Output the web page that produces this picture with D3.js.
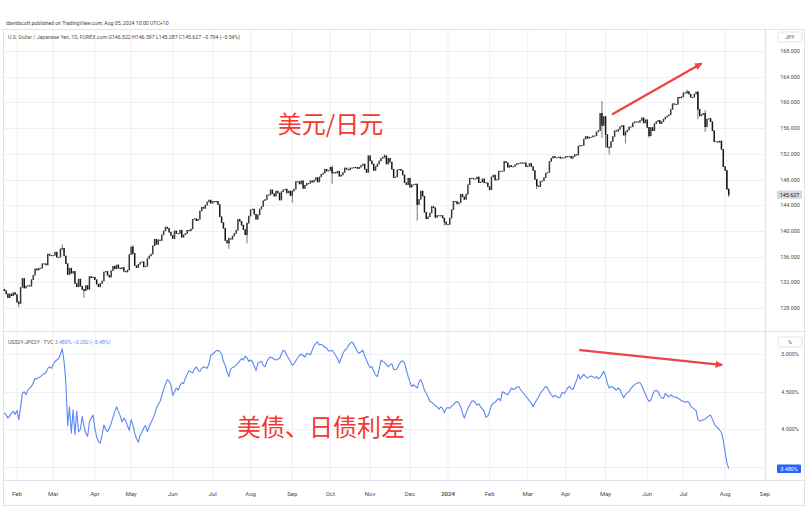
<!DOCTYPE html>
<html><head><meta charset="utf-8">
<script src="https://cdn.jsdelivr.net/npm/d3@7"></script>
<style>html,body{margin:0;padding:0;background:#fff;}svg{display:block;font-family:Roboto,"Noto Sans",sans-serif;}</style>
</head><body><svg id="c" width="808" height="507"></svg>
<script>
// ---------------- DATA ----------------
const startDate = "2023-01-23";   // first daily bar
const axisEndDate = "2024-09-06"; // time axis extends past last bar
const firstOpen = 130.9;
// USD/JPY daily closes (one per weekday)
const usdjpyClose = [
  130.7,130.2,129.6,130.2,129.9,130.4,130.1, // Jan 2023
  128.9,128.7,131.2,132.6,131.1,131.4,131.5,131.4,132.4,133.1,134.1,133.9,134.2,134.2,134.9,134.9,134.7,136.4,136.2,136.2, // Feb
  136.2,136.7,135.9,135.9,137.2,137.3,136.1,134.9,133.2,134.2,133.4,133.7,131.8,131.3,132.5,131.4,130.9,130.7,131.5,130.9,132.9,132.7,132.8, // Mar
  132.4,131.7,131.3,131.8,132.2,133.6,133.7,133.1,132.8,133.8,134.5,134.1,134.7,134.2,134.1,134.3,133.7,133.6,133.9,136.3, // Apr
  137.5,136.5,134.6,134.3,134.8,135.1,135.2,134.4,134.5,135.7,136.1,136.4,137.7,138.7,137.9,138.6,138.5,139.4,140.0,140.6,140.4,139.8,139.3, // May
  138.8,140.0,139.6,139.6,140.1,139.0,139.4,139.6,140.1,140.0,140.3,141.8,141.9,141.6,141.8,143.1,143.7,143.5,144.0,144.5,144.8,144.3, // Jun
  144.6,144.5,144.6,144.1,142.2,141.3,140.4,138.5,138.1,138.8,138.7,139.2,139.6,140.1,141.8,141.5,140.9,140.2,139.4,141.2,142.3, // Jul
  143.3,143.4,142.6,141.8,142.5,143.4,143.8,144.7,144.9,145.6,145.6,146.4,145.8,145.4,146.2,145.9,144.8,146.1,146.4,146.5,145.9,146.2,145.5, // Aug
  146.2,146.5,147.7,147.7,147.3,147.8,146.6,147.1,147.4,147.4,147.8,147.6,147.9,148.3,147.6,148.4,148.8,149.0,149.6,149.3,149.4, // Sep
  149.9,149.0,149.1,149.0,149.3,148.5,148.7,149.1,149.8,149.6,149.5,149.8,149.8,149.9,149.9,149.7,149.9,150.2,150.4,149.6,149.1,151.7, // Oct
  150.9,150.4,149.4,150.0,150.4,150.9,151.3,151.5,151.7,150.4,151.3,150.7,149.6,148.3,148.4,149.5,149.6,149.4,148.7,147.5,147.2,148.2, // Nov
  146.8,147.2,147.2,147.3,144.1,144.9,146.2,145.4,142.9,141.9,142.2,142.8,143.8,143.6,142.1,142.4,142.4,142.4,142.0,141.4,141.0, // Dec
  141.0,142.0,143.3,144.6,144.6,144.2,144.4,145.7,145.3,144.9,145.7,147.2,148.2,148.2,148.1,148.1,148.4,147.5,147.6,148.1,147.5,147.5,146.9, // Jan 2024
  146.4,148.4,148.7,147.9,148.0,149.3,149.3,149.3,150.8,150.6,149.9,150.2,150.0,150.0,150.3,150.5,150.5,150.6,150.5,150.6,150.0, // Feb
  150.1,150.5,150.0,149.4,148.0,147.0,146.9,147.7,147.8,148.3,149.0,149.1,150.8,151.3,151.6,151.4,151.4,151.5,151.3,151.4,151.4, // Mar
  151.6,151.6,151.6,151.3,151.6,151.9,151.8,153.2,153.3,153.3,154.3,154.7,154.4,154.6,154.6,154.8,154.8,155.4,155.6,158.3,156.4,157.8, // Apr
  155.0,153.0,153.0,153.9,154.7,155.6,155.5,155.8,156.2,156.4,154.9,155.4,155.7,156.2,156.2,156.8,157.0,157.0,156.9,157.2,157.6,156.8,157.3, // May
  156.1,154.8,156.1,155.6,156.7,157.0,157.2,156.7,157.0,157.4,157.7,157.9,158.1,158.9,159.8,159.7,159.7,160.8,160.7,160.9, // Jun
  161.5,161.5,161.7,161.3,160.8,160.8,161.3,161.6,158.9,157.9,158.1,158.3,156.2,157.4,157.5,157.0,155.6,153.9,153.9,153.8,154.0,152.7,150.0, // Jul
  149.4,146.5,145.627 // Aug
];
// notable intraday extremes: [date, high, low]
const wicks = [
  ["2023-02-02",129.1,128.1],["2023-03-08",137.9,137.0],["2023-03-24",131.0,129.6],["2023-05-02",137.8,136.3],
  ["2023-07-14",139.0,137.2],["2023-07-28",141.3,138.05],["2023-09-01",146.3,144.4],["2023-10-03",150.2,147.3],
  ["2023-11-13",151.9,151.3],["2023-12-07",147.3,141.6],["2023-12-28",141.9,140.8],["2024-03-08",148.0,146.5],
  ["2024-04-29",160.2,154.5],["2024-05-01",157.9,153.0],["2024-05-03",153.2,151.9],["2024-05-16",155.5,153.6],
  ["2024-06-04",156.2,154.5],["2024-07-03",161.95,161.3],["2024-07-11",161.8,157.4],["2024-07-17",158.8,155.4],
  ["2024-08-02",149.5,146.4],["2024-08-05",146.597,145.287]
];
// US02Y - JP02Y spread (%), one per weekday
const spread = [
  4.22,4.19,4.15,4.18,4.22,4.24,4.20, // Jan 2023
  4.25,4.13,4.30,4.48,4.50,4.46,4.52,4.55,4.57,4.62,4.68,4.67,4.69,4.70,4.72,4.74,4.75,4.81,4.83,4.81,
  4.86,4.90,4.92,4.94,5.00,5.07,4.90,4.62,4.05,4.30,3.95,4.26,3.93,4.24,3.97,4.00,4.17,4.04,3.95,3.91,4.10,4.15,4.19,
  4.02,3.90,3.84,3.82,3.93,4.06,4.00,3.97,4.02,4.08,4.16,4.24,4.30,4.24,4.18,4.10,4.15,4.12,4.05,3.99,
  4.13,4.06,3.95,3.88,3.83,3.93,3.96,4.02,4.05,3.97,4.04,4.09,4.14,4.20,4.28,4.33,4.37,4.45,4.53,4.60,4.66,4.64,4.59,
  4.45,4.50,4.55,4.52,4.58,4.62,4.61,4.68,4.73,4.78,4.76,4.75,4.80,4.83,4.79,4.77,4.81,4.83,4.82,4.81,4.87,4.98,
  5.00,5.02,5.04,5.05,5.03,5.00,4.90,4.85,4.76,4.70,4.80,4.82,4.83,4.85,4.88,4.91,4.94,4.92,4.97,4.95,4.90,
  4.92,4.90,4.84,4.78,4.88,4.89,4.90,4.85,4.83,4.90,4.94,4.96,4.95,4.93,4.92,4.93,4.94,5.00,5.05,5.04,4.98,4.94,4.90,
  4.85,4.87,4.91,4.95,4.98,5.00,4.98,4.96,5.01,5.00,4.99,5.05,5.11,5.14,5.16,5.12,5.13,5.11,5.09,5.08,5.04,
  5.04,5.05,5.02,4.98,4.94,4.88,4.94,5.01,5.05,5.07,5.11,5.14,5.16,5.13,5.08,5.03,5.01,5.03,5.05,4.97,4.92,4.86,
  4.82,4.83,4.77,4.72,4.70,4.80,4.92,4.90,4.89,4.86,4.83,4.86,4.87,4.80,4.79,4.81,4.86,4.90,4.91,4.88,4.79,4.70,
  4.63,4.57,4.59,4.57,4.55,4.63,4.66,4.60,4.52,4.48,4.43,4.37,4.36,4.34,4.31,4.30,4.27,4.30,4.28,4.22,4.28,
  4.29,4.28,4.31,4.33,4.36,4.37,4.35,4.30,4.22,4.15,4.22,4.28,4.32,4.37,4.38,4.36,4.32,4.34,4.30,4.27,4.24,4.16,4.18, // Jan 2024
  4.24,4.32,4.35,4.36,4.39,4.41,4.38,4.50,4.49,4.47,4.46,4.50,4.55,4.53,4.54,4.56,4.57,4.53,4.50,4.47,4.44,
  4.41,4.38,4.35,4.30,4.35,4.39,4.43,4.48,4.51,4.54,4.57,4.55,4.50,4.46,4.43,4.45,4.44,4.42,4.43,4.49,4.48,
  4.50,4.55,4.57,4.54,4.53,4.59,4.65,4.73,4.67,4.70,4.73,4.70,4.68,4.70,4.71,4.70,4.68,4.70,4.67,4.69,4.73,4.77,
  4.71,4.61,4.55,4.57,4.56,4.54,4.52,4.55,4.53,4.47,4.42,4.46,4.49,4.50,4.54,4.57,4.59,4.61,4.62,4.62,4.58,4.52,4.47,
  4.41,4.37,4.39,4.46,4.51,4.52,4.50,4.45,4.42,4.41,4.48,4.45,4.43,4.46,4.44,4.43,4.43,4.41,4.40,4.38,
  4.37,4.36,4.37,4.36,4.31,4.29,4.27,4.25,4.13,4.11,4.12,4.13,4.14,4.16,4.18,4.19,4.14,4.08,4.04,4.02,3.99,3.96,3.86,
  3.70,3.56,3.48
];
const priceTicks = [128,132,136,140,144,148,152,156,160,164,168];
const spreadTicks = [3.5,4.0,4.5,5.0];
const monthLabels = ["Feb","Mar","Apr","May","Jun","Jul","Aug","Sep","Oct","Nov","Dec","2024","Feb","Mar","Apr","May","Jun","Jul","Aug","Sep"];
const headerText = "davidscott published on TradingView.com, Aug 05, 2024 10:00 UTC+10";
const priceLegend = "U.S. Dollar / Japanese Yen, 1D, FOREX.com";
const priceLegendVals = "O146.522  H146.597  L145.287  C145.627  \u22120.794 (\u22120.54%)";
const spreadLegend = "US02Y-JP02Y \u00b7 TVC";
const spreadLegendVals = "3.480%  \u22120.202 (\u22125.48%)";
// annotations (in data coordinates: bar index, value)
const notes = [
  {pane:"top", text:"美元/日元", at:[151,155.2]},
  {pane:"bottom", text:"美债、日债利差", at:[128.5,3.914]}
];
const arrows = [
  {pane:"top", from:[336,158.2], to:[384.7,166.0]},
  {pane:"bottom", from:[318,5.05], to:[396,4.855]}
];

// ---------------- LAYOUT ----------------
const L = 3, R = 765.5, TT = 30, TB = 331.5, BT = 332, BB = 480.5, AX = 790;
const svg = d3.select("#c");
const parse = d3.timeParse("%Y-%m-%d"), fmt = d3.timeFormat("%Y-%m-%d");
const days = d3.timeDay.range(parse(startDate), d3.timeDay.offset(parse(axisEndDate),1))
  .filter(d => d.getDay() > 0 && d.getDay() < 6);
const step = 1.811;
const x = d3.scaleLinear().domain([0, 421]).range([4.3, 4.3 + 421*step]);
const yP = d3.scaleLinear().domain([128,168]).range([308, 51]);
const yS = d3.scaleLinear().domain([3.5,5.0]).range([467.2, 354]);
const months = d3.timeMonth.range(parse("2023-02-01"), parse("2024-09-02"));
const monthIdx = months.map(m => days.findIndex(d => d >= m));

const grid = "#eef0f3";
// vertical grid
svg.append("g").selectAll("line").data(monthIdx).join("line")
  .attr("x1", d => x(d)).attr("x2", d => x(d)).attr("y1", TT).attr("y2", BB)
  .attr("stroke", grid).attr("stroke-width", 1);
// horizontal grid
svg.append("g").selectAll("line").data(priceTicks).join("line")
  .attr("x1", L).attr("x2", R).attr("y1", d => Math.round(yP(d))+0.5).attr("y2", d => Math.round(yP(d))+0.5)
  .attr("stroke", grid);
svg.append("g").selectAll("line").data(spreadTicks).join("line")
  .attr("x1", L).attr("x2", R).attr("y1", d => Math.round(yS(d))+0.5).attr("y2", d => Math.round(yS(d))+0.5)
  .attr("stroke", grid);

// frame
const fc = "#e0e3eb";
svg.append("rect").attr("x", 3.5).attr("y", TT - 0.5).attr("width", 801).attr("height", 476).attr("fill","none").attr("stroke", fc);
svg.append("line").attr("x1", R).attr("x2", R).attr("y1", TT).attr("y2", BB).attr("stroke", fc);
svg.append("line").attr("x1", 3.5).attr("x2", 804.5).attr("y1", TB).attr("y2", TB).attr("stroke", fc);
svg.append("line").attr("x1", 3.5).attr("x2", 804.5).attr("y1", BB).attr("y2", BB).attr("stroke", fc);

// clip paths
const defs = svg.append("defs");
defs.append("clipPath").attr("id","ct").append("rect").attr("x",L).attr("y",TT).attr("width",R-L).attr("height",TB-TT);
defs.append("clipPath").attr("id","cb").append("rect").attr("x",L).attr("y",BT).attr("width",R-L).attr("height",BB-BT);
defs.append("marker").attr("id","ah").attr("viewBox","0 0 10 10").attr("refX",8).attr("refY",5)
  .attr("markerWidth",3.2).attr("markerHeight",3.2).attr("orient","auto")
  .append("path").attr("d","M0,0L10,5L0,10z").attr("fill","#ef4444");

// candles
const wickMap = new Map(wicks.map(w => [w[0], [w[1], w[2]]]));
const candles = usdjpyClose.map((c, i) => {
  const o = i ? usdjpyClose[i-1] : firstOpen;
  const w = wickMap.get(fmt(days[i]));
  return {i, o, c, h: w ? Math.max(w[0], o, c) : Math.max(o, c), l: w ? Math.min(w[1], o, c) : Math.min(o, c)};
});
const gC = svg.append("g").attr("clip-path","url(#ct)");
gC.selectAll("line").data(candles.filter(d => d.h > Math.max(d.o,d.c) || d.l < Math.min(d.o,d.c))).join("line")
  .attr("x1", d => x(d.i)).attr("x2", d => x(d.i)).attr("y1", d => yP(d.h)).attr("y2", d => yP(d.l))
  .attr("stroke", "#555").attr("stroke-width", 0.8);
gC.selectAll("rect").data(candles).join("rect")
  .attr("x", d => x(d.i) - 0.75).attr("width", 1.5)
  .attr("y", d => Math.min(yP(d.o), yP(d.c)) - 0.3)
  .attr("height", d => Math.max(1.1, Math.abs(yP(d.o) - yP(d.c)) + 0.6))
  .attr("fill", d => d.c >= d.o ? "#383838" : "#141414");

// spread line
svg.append("g").attr("clip-path","url(#cb)").append("path")
  .datum(spread).attr("fill","none").attr("stroke","#5b87f3").attr("stroke-width",1.1)
  .attr("stroke-linejoin","round")
  .attr("d", d3.line().x((d,i) => x(i)).y(d => yS(d)));

// annotations
const txtFont = '"Noto Sans CJK SC","Noto Sans CJK JP",sans-serif';
notes.forEach(n => {
  const yy = n.pane === "top" ? yP : yS;
  svg.append("text").attr("x", x(n.at[0])).attr("y", yy(n.at[1])).text(n.text)
    .attr("font-family", txtFont).attr("font-size", 24).attr("fill", "#f5372f");
});
arrows.forEach(a => {
  const yy = a.pane === "top" ? yP : yS;
  svg.append("line").attr("x1", x(a.from[0])).attr("y1", yy(a.from[1]))
    .attr("x2", x(a.to[0])).attr("y2", yy(a.to[1]))
    .attr("stroke","#ef4444").attr("stroke-width",2.3).attr("stroke-linecap","round")
    .attr("marker-end","url(#ah)");
});

// price axis labels
const axc = "#4a4a4a";
svg.append("g").selectAll("text").data(priceTicks).join("text")
  .attr("x", AX).attr("y", d => yP(d) + 2).attr("text-anchor","middle")
  .attr("font-size", 5.4).attr("fill", axc).text(d => d3.format(".3f")(d));
svg.append("g").selectAll("text").data(spreadTicks).join("text")
  .attr("x", AX).attr("y", d => yS(d) + 2).attr("text-anchor","middle")
  .attr("font-size", 5.4).attr("fill", axc).text(d => d3.format(".3f")(d) + "%");

// unit boxes
[["JPY", 32], ["%", 337]].forEach(([t, yy]) => {
  svg.append("rect").attr("x",778).attr("y",yy).attr("width",24).attr("height",10).attr("rx",2)
    .attr("fill","#fff").attr("stroke","#e0e3eb");
  svg.append("text").attr("x",790).attr("y",yy+7).attr("text-anchor","middle")
    .attr("font-size",5.2).attr("fill","#555").text(t);
});

// last value labels
const lastP = usdjpyClose[usdjpyClose.length-1];
svg.append("rect").attr("x",777).attr("y",yP(lastP)-4.3).attr("width",25).attr("height",8.2).attr("rx",1)
  .attr("fill","#d5d8e0");
svg.append("text").attr("x",789.5).attr("y",yP(lastP)+2).attr("text-anchor","middle")
  .attr("font-size",5.4).attr("fill","#222").text(d3.format(".3f")(lastP));
const lastS = spread[spread.length-1];
svg.append("rect").attr("x",777).attr("y",yS(lastS)-4.3).attr("width",24).attr("height",8.6).attr("rx",1)
  .attr("fill","#2962ff");
svg.append("text").attr("x",789).attr("y",yS(lastS)+2).attr("text-anchor","middle")
  .attr("font-size",5.4).attr("fill","#fff").text(d3.format(".3f")(lastS) + "%");

// time axis
svg.append("g").selectAll("text").data(monthIdx).join("text")
  .attr("x", d => x(d)).attr("y", 496).attr("text-anchor","middle")
  .attr("font-size", 6).attr("fill", axc)
  .attr("font-weight", (d,i) => monthLabels[i] === "2024" ? 600 : 400)
  .text((d,i) => monthLabels[i]);

// header and legends
svg.append("text").attr("x",6).attr("y",24.5).attr("font-size",5.2).attr("fill","#444").text(headerText);
const lg = svg.append("text").attr("x",8).attr("y",39).attr("font-size",5.2).attr("fill","#555");
lg.append("tspan").text(priceLegend + "  ");
lg.append("tspan").attr("fill","#444").text(priceLegendVals);
const lg2 = svg.append("text").attr("x",8).attr("y",343.5).attr("font-size",5.2).attr("fill","#555");
lg2.append("tspan").text(spreadLegend + "  ");
lg2.append("tspan").attr("fill","#5b87f3").text(spreadLegendVals);
</script></body></html>
